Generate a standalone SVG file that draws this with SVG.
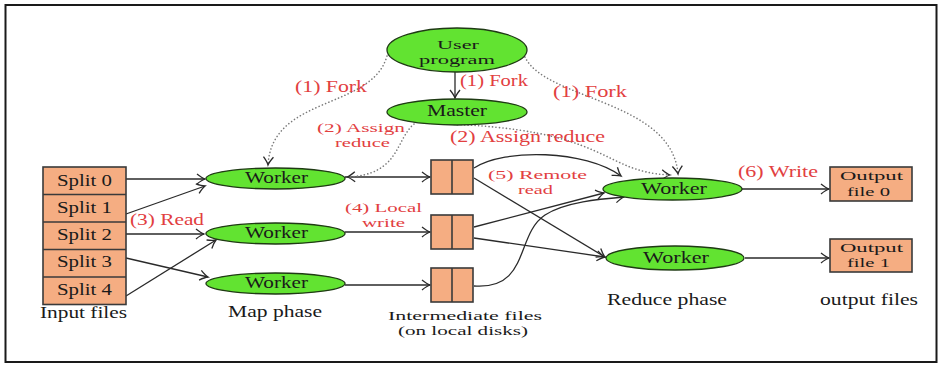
<svg xmlns="http://www.w3.org/2000/svg" width="940" height="365" viewBox="0 0 940 365">
  <style>
    .node ellipse { fill: #62e331; stroke: #1f3a14; stroke-width: 1.3; }
    .box { fill: #f5ad82; stroke: #3a3a3a; stroke-width: 1.6; }
    .sep { stroke: #3a3a3a; stroke-width: 1.6; }
    text { font-family: "Liberation Serif", "Times New Roman", serif; font-size: 16px; fill: #1a1a1a; }
    text.two { font-size: 13.5px; }
    .lbl { fill: #e2403f; }
    .solid { fill: none; stroke: #2a2a2a; stroke-width: 1.3; marker-end: url(#arrow); }
    .dotted { fill: none; stroke: #7a7a7a; stroke-width: 1.6; stroke-dasharray: 0.1 3.4; stroke-linecap: round; marker-end: url(#arrow); }
  </style>
  <defs>
    <marker id="arrow" markerUnits="userSpaceOnUse" markerWidth="14" markerHeight="14" viewBox="-9 -7 11 14" refX="0" refY="0" orient="auto">
      <path d="M-8,-5 Q-3,-1 0,0 Q-3,1 -8,5" fill="none" stroke="#2a2a2a" stroke-width="1.3"/>
    </marker>
  </defs>

  <rect width="940" height="365" fill="#ffffff"/>
  <rect x="5.5" y="5" width="931" height="357" fill="none" stroke="#1a1a1a" stroke-width="2"/>

  <!-- connectors -->
  <g id="connectors">
    <path class="solid" d="M126,179 L205,179"/>
    <path class="solid" d="M126,214 L205,186"/>
    <path class="solid" d="M126,234 L204,234"/>
    <path class="solid" d="M126,258 L208,277"/>
    <path class="solid" d="M126,296 L216,240"/>
    <path class="solid" d="M345,177 L430,177"/>
    <path class="solid" d="M345,232 L430,232"/>
    <path class="solid" d="M345,285 L430,285"/>
    <path class="solid" d="M474,168 C505,148 585,150 621,176"/>
    <path class="solid" d="M474,178 L605,257"/>
    <path class="solid" d="M474,227 L604,193"/>
    <path class="solid" d="M474,238 L605,257"/>
    <path class="solid" d="M474,286 C530,290 515,235 545,215 C565,202 600,199 624,197"/>
    <path class="solid" d="M742,189 L829,189"/>
    <path class="solid" d="M745,258 L829,258"/>
    <path class="solid" d="M455,72 L455,98"/>
    <path class="dotted" d="M387,56 C372,110 272,95 268,165"/>
    <path class="dotted" d="M414,124 C395,140 400,175 347,177"/>
    <path class="dotted" d="M440,124 C610,128 600,172 670,175"/>
    <path class="dotted" d="M525,57 C545,100 672,100 678,174"/>
  </g>

  <!-- edge labels -->
  <g id="labels">
    <text class="lbl" x="295" y="92" textLength="72" lengthAdjust="spacingAndGlyphs">(1) Fork</text>
    <text class="lbl" x="460" y="86" textLength="68" lengthAdjust="spacingAndGlyphs">(1) Fork</text>
    <text class="lbl" x="553" y="97" textLength="74" lengthAdjust="spacingAndGlyphs">(1) Fork</text>
    <text class="lbl two" x="317" y="132" textLength="88" lengthAdjust="spacingAndGlyphs">(2) Assign</text>
    <text class="lbl two" x="335" y="147" textLength="55" lengthAdjust="spacingAndGlyphs">reduce</text>
    <text class="lbl" x="450" y="142" textLength="155" lengthAdjust="spacingAndGlyphs">(2) Assign reduce</text>
    <text class="lbl" x="130" y="225" textLength="74" lengthAdjust="spacingAndGlyphs">(3) Read</text>
    <text class="lbl two" x="345" y="212" textLength="77" lengthAdjust="spacingAndGlyphs">(4) Local</text>
    <text class="lbl two" x="362" y="227" textLength="43" lengthAdjust="spacingAndGlyphs">write</text>
    <text class="lbl two" x="488" y="179" textLength="99" lengthAdjust="spacingAndGlyphs">(5) Remote</text>
    <text class="lbl two" x="518" y="194" textLength="35" lengthAdjust="spacingAndGlyphs">read</text>
    <text class="lbl" x="738" y="177" textLength="80" lengthAdjust="spacingAndGlyphs">(6) Write</text>
  </g>

  <g id="user-program" class="node">
    <ellipse cx="457" cy="50" rx="70" ry="22"/>
    <text class="two" x="437" y="49" textLength="42" lengthAdjust="spacingAndGlyphs">User</text>
    <text class="two" x="419" y="64" textLength="76" lengthAdjust="spacingAndGlyphs">program</text>
  </g>

  <g id="master" class="node">
    <ellipse cx="457" cy="112" rx="70" ry="13"/>
    <text x="427" y="116" textLength="60" lengthAdjust="spacingAndGlyphs">Master</text>
  </g>

  <g id="input-files">
    <rect class="box" x="43" y="167" width="83" height="137.5"/>
    <line class="sep" x1="43" y1="194.5" x2="126" y2="194.5"/>
    <line class="sep" x1="43" y1="222" x2="126" y2="222"/>
    <line class="sep" x1="43" y1="249.5" x2="126" y2="249.5"/>
    <line class="sep" x1="43" y1="277" x2="126" y2="277"/>
    <text x="57" y="186" textLength="55" lengthAdjust="spacingAndGlyphs">Split 0</text>
    <text x="57" y="213" textLength="55" lengthAdjust="spacingAndGlyphs">Split 1</text>
    <text x="57" y="240" textLength="55" lengthAdjust="spacingAndGlyphs">Split 2</text>
    <text x="57" y="267" textLength="55" lengthAdjust="spacingAndGlyphs">Split 3</text>
    <text x="57" y="295" textLength="55" lengthAdjust="spacingAndGlyphs">Split 4</text>
    <text x="40" y="318" textLength="87" lengthAdjust="spacingAndGlyphs">Input files</text>
  </g>

  <g id="map-worker-1" class="node">
    <ellipse cx="275.5" cy="178.5" rx="69.5" ry="10.5"/>
    <text x="245" y="183" textLength="63" lengthAdjust="spacingAndGlyphs">Worker</text>
  </g>
  <g id="map-worker-2" class="node">
    <ellipse cx="275.5" cy="233.5" rx="69.5" ry="10.5"/>
    <text x="245" y="238" textLength="63" lengthAdjust="spacingAndGlyphs">Worker</text>
  </g>
  <g id="map-worker-3" class="node">
    <ellipse cx="275.5" cy="283.5" rx="69.5" ry="10.5"/>
    <text x="245" y="288" textLength="63" lengthAdjust="spacingAndGlyphs">Worker</text>
  </g>
  <text x="228" y="317" textLength="94" lengthAdjust="spacingAndGlyphs">Map phase</text>

  <g id="intermediate-1">
    <rect class="box" x="431" y="160" width="42" height="34"/>
    <line class="sep" x1="452" y1="160" x2="452" y2="194"/>
  </g>
  <g id="intermediate-2">
    <rect class="box" x="431" y="215" width="42" height="34"/>
    <line class="sep" x1="452" y1="215" x2="452" y2="249"/>
  </g>
  <g id="intermediate-3">
    <rect class="box" x="431" y="268" width="42" height="34"/>
    <line class="sep" x1="452" y1="268" x2="452" y2="302"/>
  </g>
  <text class="two" x="388" y="320" textLength="154" lengthAdjust="spacingAndGlyphs">Intermediate files</text>
  <text class="two" x="398" y="335" textLength="130" lengthAdjust="spacingAndGlyphs">(on local disks)</text>

  <g id="reduce-worker-1" class="node">
    <ellipse cx="672.5" cy="189" rx="69.5" ry="11"/>
    <text x="641" y="194" textLength="66" lengthAdjust="spacingAndGlyphs">Worker</text>
  </g>
  <g id="reduce-worker-2" class="node">
    <ellipse cx="675" cy="258" rx="69" ry="12"/>
    <text x="643" y="263" textLength="66" lengthAdjust="spacingAndGlyphs">Worker</text>
  </g>
  <text x="607" y="305" textLength="120" lengthAdjust="spacingAndGlyphs">Reduce phase</text>

  <g id="output-file-0">
    <rect class="box" x="830" y="167" width="82" height="34"/>
    <text class="two" x="840" y="180" textLength="63" lengthAdjust="spacingAndGlyphs">Output</text>
    <text class="two" x="847" y="196" textLength="43" lengthAdjust="spacingAndGlyphs">file 0</text>
  </g>
  <g id="output-file-1">
    <rect class="box" x="830" y="239" width="82" height="33"/>
    <text class="two" x="840" y="252" textLength="63" lengthAdjust="spacingAndGlyphs">Output</text>
    <text class="two" x="847" y="267" textLength="43" lengthAdjust="spacingAndGlyphs">file 1</text>
  </g>
  <text x="820" y="305" textLength="98" lengthAdjust="spacingAndGlyphs">output files</text>
</svg>
